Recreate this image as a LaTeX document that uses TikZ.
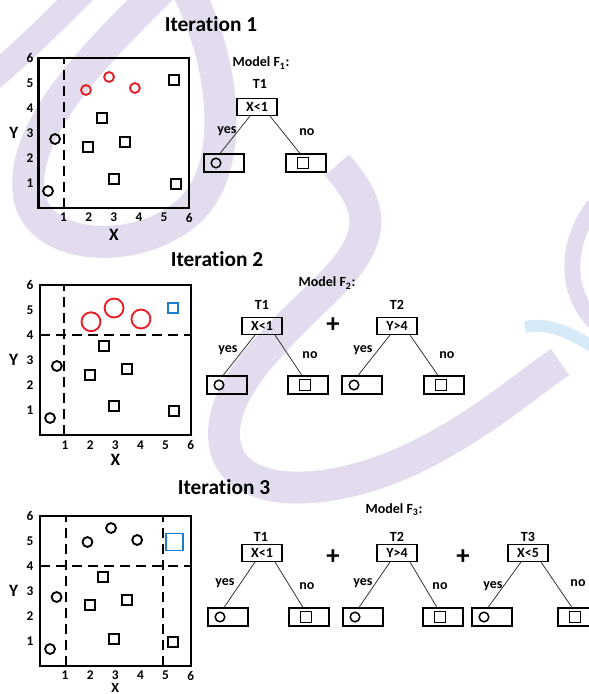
\documentclass[tikz,border=0pt]{standalone}
\usepackage{fontspec}
\setmainfont{Carlito}[Ligatures=NoCommon]
\usepackage{xcolor}
\usepackage{tikz}
\usetikzlibrary{positioning,calc}

\definecolor{wmlav}{RGB}{226,220,238}
\definecolor{wmsky}{RGB}{214,235,247}
\definecolor{ptred}{RGB}{236,28,36}
\definecolor{ptblue}{RGB}{28,124,206}

\begin{document}
\begin{tikzpicture}[x=0.75pt,y=-0.75pt]
\tikzstyle{ttl}=[font=\bfseries\fontsize{16}{18}\selectfont,inner sep=0pt]
\tikzstyle{lbl}=[font=\bfseries\fontsize{10.5}{12}\selectfont,inner sep=0pt]
\tikzstyle{cnd}=[draw,line width=0.8pt,minimum width=30pt,minimum height=12.75pt,inner sep=1pt,font=\bfseries\fontsize{10.5}{12}\selectfont]
\tikzstyle{leaf}=[draw,line width=0.8pt,minimum width=30pt,minimum height=13.5pt,inner sep=0pt]
\tikzstyle{edge}=[line width=0.6pt,black!80]
\tikzstyle{sym}=[line width=1.1pt]
\tikzstyle{frame}=[line width=1.7pt]
\tikzstyle{cut}=[line width=1.4pt,dash pattern=on 7.5pt off 4.5pt]
\tikzstyle{mk}=[line width=1.4pt]
\tikzstyle{tick}=[font=\bfseries\fontsize{10}{12}\selectfont,inner sep=0pt]
\tikzstyle{axis}=[font=\bfseries\fontsize{13}{15}\selectfont,inner sep=0pt]
\tikzstyle{plus}=[font=\bfseries\fontsize{20}{22}\selectfont,inner sep=0pt]
\tikzstyle{wm}=[wmlav,line width=24pt]

\useasboundingbox (0,0) rectangle (589,694);

% faint swooshes behind everything
\draw[wm,line width=19pt] (85,-10) .. controls (55,20) and (25,50) .. (-10,80);
\draw[wm] (165,-15) .. controls (100,50) and (15,130) .. (30,200) .. controls (45,255) and (150,255) .. (195,205) .. controls (235,160) and (225,60) .. (185,-15);
\draw[wm] (337,165) .. controls (372,205) and (380,235) .. (330,285) .. controls (280,335) and (215,390) .. (225,445) .. controls (235,500) and (330,500) .. (420,455) .. controls (480,425) and (520,390) .. (560,362);
\draw[wm,line width=12pt] (594,205) .. controls (565,245) and (565,290) .. (594,322);
\draw[wmsky,line width=9pt] (525,327) .. controls (550,322) and (570,333) .. (595,348);

% titles
\node[ttl] (it1) at (211,24) {Iteration 1};
\node[ttl] (it2) at (217,259) {Iteration 2};
\node[ttl] (it3) at (224,487) {Iteration 3};

% scatter 1
\begin{scope}[shift={(38.5,208)},x=18.83pt,y=18.75pt]
\draw[frame] (0,0) rectangle (6,6);
\draw[cut] (1,0) -- (1,6);
\foreach \i in {1,...,6} {
  \node[tick] (p1x\i) at (\i,-0.38) {\i};
  \node[tick] (p1y\i) at (-0.34,\i) {\i};
}
\node[axis] (p1X) at (3,-1.08) {X};
\node[axis] (p1Y) at (-0.98,3) {Y};
\foreach \px/\py in {0.38/0.68,0.66/2.76} \draw[mk] (\px,\py) circle[radius=3.7pt];
\foreach \px/\py in {1.89/4.72,2.81/5.24,3.84/4.8} \draw[mk,ptred] (\px,\py) circle[radius=3.7pt];
\foreach \px/\py in {5.4/5.12,2.53/3.6,1.97/2.44,3.45/2.64,3.0/1.16,5.48/0.96}
  \draw[mk] (\px,\py) ++(-3.9pt,-3.9pt) rectangle ++(7.8pt,7.8pt);
\end{scope}

% scatter 2
\begin{scope}[shift={(40,435)},x=18.83pt,y=18.75pt]
\draw[frame] (0,0) rectangle (6,6);
\draw[cut] (0.95,0) -- (0.95,6);
\draw[cut] (0,4) -- (6,4);
\foreach \i in {1,...,6} {
  \node[tick] (p2x\i) at (\i,-0.4) {\i};
  \node[tick] (p2y\i) at (-0.4,\i) {\i};
}
\node[axis] (p2X) at (3,-1.0) {X};
\node[axis] (p2Y) at (-1.05,3) {Y};
\foreach \px/\py in {0.4/0.68,0.67/2.76} \draw[mk] (\px,\py) circle[radius=3.7pt];
\foreach \px/\py in {2.03/4.53,2.95/5.08,4.02/4.64} \draw[mk,ptred] (\px,\py) circle[radius=7.1pt];
\draw[mk,ptblue] (5.3,5.08) ++(-3.8pt,-3.8pt) rectangle ++(7.6pt,7.6pt);
\foreach \px/\py in {2.55/3.56,1.99/2.4,3.47/2.64,2.95/1.16,5.34/0.96}
  \draw[mk] (\px,\py) ++(-3.9pt,-3.9pt) rectangle ++(7.8pt,7.8pt);
\end{scope}

% scatter 3
\begin{scope}[shift={(40,666)},x=18.83pt,y=18.75pt]
\draw[frame] (0,0) rectangle (6,6);
\draw[cut] (1.02,0) -- (1.02,6);
\draw[cut] (4.9,0) -- (4.9,6);
\draw[cut] (0,4) -- (6,4);
\foreach \i in {1,...,6} {
  \node[tick] (p3x\i) at (\i,-0.38) {\i};
  \node[tick] (p3y\i) at (-0.4,\i) {\i};
}
\node[axis,font=\bfseries\fontsize{10.5}{12}\selectfont] (p3X) at (3,-0.87) {X};
\node[axis] (p3Y) at (-1.05,3) {Y};
\foreach \px/\py in {0.4/0.68,0.66/2.76,1.89/4.96,2.83/5.52,3.87/5.04} \draw[mk] (\px,\py) circle[radius=3.7pt];
\draw[mk,ptblue] (5.35,4.96) ++(-6.4pt,-6.4pt) rectangle ++(12.8pt,12.8pt);
\foreach \px/\py in {2.5/3.56,1.99/2.44,3.47/2.64,2.95/1.08,5.29/0.96}
  \draw[mk] (\px,\py) ++(-3.9pt,-3.9pt) rectangle ++(7.8pt,7.8pt);
\end{scope}

% model F1
\node[lbl] (m1) at (261,63) {Model F\textsubscript{1}:};
\node[lbl] (a1t) at (260,84) {T1};
\node[cnd] (a1) at (257,107) {X<1};
\node[leaf] (a1y) at (224,163) {};
\node[leaf] (a1n) at (306,163) {};
\node[lbl] (a1ly) at (227,131) {yes};
\node[lbl] (a1ln) at (307,132) {no};

% model F2
\node[lbl] (m2) at (327,283) {Model F\textsubscript{2}:};
\node[lbl] (b1t) at (262,305) {T1};
\node[cnd] (b1) at (262,326) {X<1};
\node[leaf] (b1y) at (227,385) {};
\node[leaf] (b1n) at (308,385) {};
\node[lbl] (b1ly) at (228,350) {yes};
\node[lbl] (b1ln) at (310,355) {no};
\node[plus] (bp1) at (333,325) {+};
\node[lbl] (b2t) at (397,305) {T2};
\node[cnd] (b2) at (397,326) {Y>4};
\node[leaf] (b2y) at (362,385) {};
\node[leaf] (b2n) at (444,385) {};
\node[lbl] (b2ly) at (363,350) {yes};
\node[lbl] (b2ln) at (447,355) {no};

% model F3
\node[lbl] (m3) at (394,510) {Model F\textsubscript{3}:};
\node[lbl] (c1t) at (261,537) {T1};
\node[cnd] (c1) at (262,553) {X<1};
\node[leaf] (c1y) at (228,617) {};
\node[leaf] (c1n) at (309,617) {};
\node[lbl] (c1ly) at (225,583) {yes};
\node[lbl] (c1ln) at (307,586) {no};
\node[plus] (cp1) at (333,557) {+};
\node[lbl] (c2t) at (397,537) {T2};
\node[cnd] (c2) at (397,553) {Y>4};
\node[leaf] (c2y) at (363,617) {};
\node[leaf] (c2n) at (443,617) {};
\node[lbl] (c2ly) at (363,583) {yes};
\node[lbl] (c2ln) at (440,586) {no};
\node[plus] (cp2) at (463,557) {+};
\node[lbl] (c3t) at (528,537) {T3};
\node[cnd] (c3) at (528,553) {X<5};
\node[leaf] (c3y) at (492,617) {};
\node[leaf] (c3n) at (578,617) {};
\node[lbl] (c3ly) at (493,586) {yes};
\node[lbl] (c3ln) at (578,583) {no};

\foreach \t in {a1,b1,b2,c1,c2,c3} {
  \draw[edge] ($(\t.south)+(-7,0)$) -- ($(\t y.north)+(-4,0)$);
  \draw[edge] ($(\t.south)+(13,0)$) -- ($(\t n.north)+(-6,0)$);
  \draw[sym] ($(\t y)+(-8,0)$) circle[radius=3.6pt];
  \draw[sym] ($(\t n)+(-3,0)$) ++(-4pt,-4pt) rectangle ++(8pt,8pt);
}
\end{tikzpicture}
\end{document}
